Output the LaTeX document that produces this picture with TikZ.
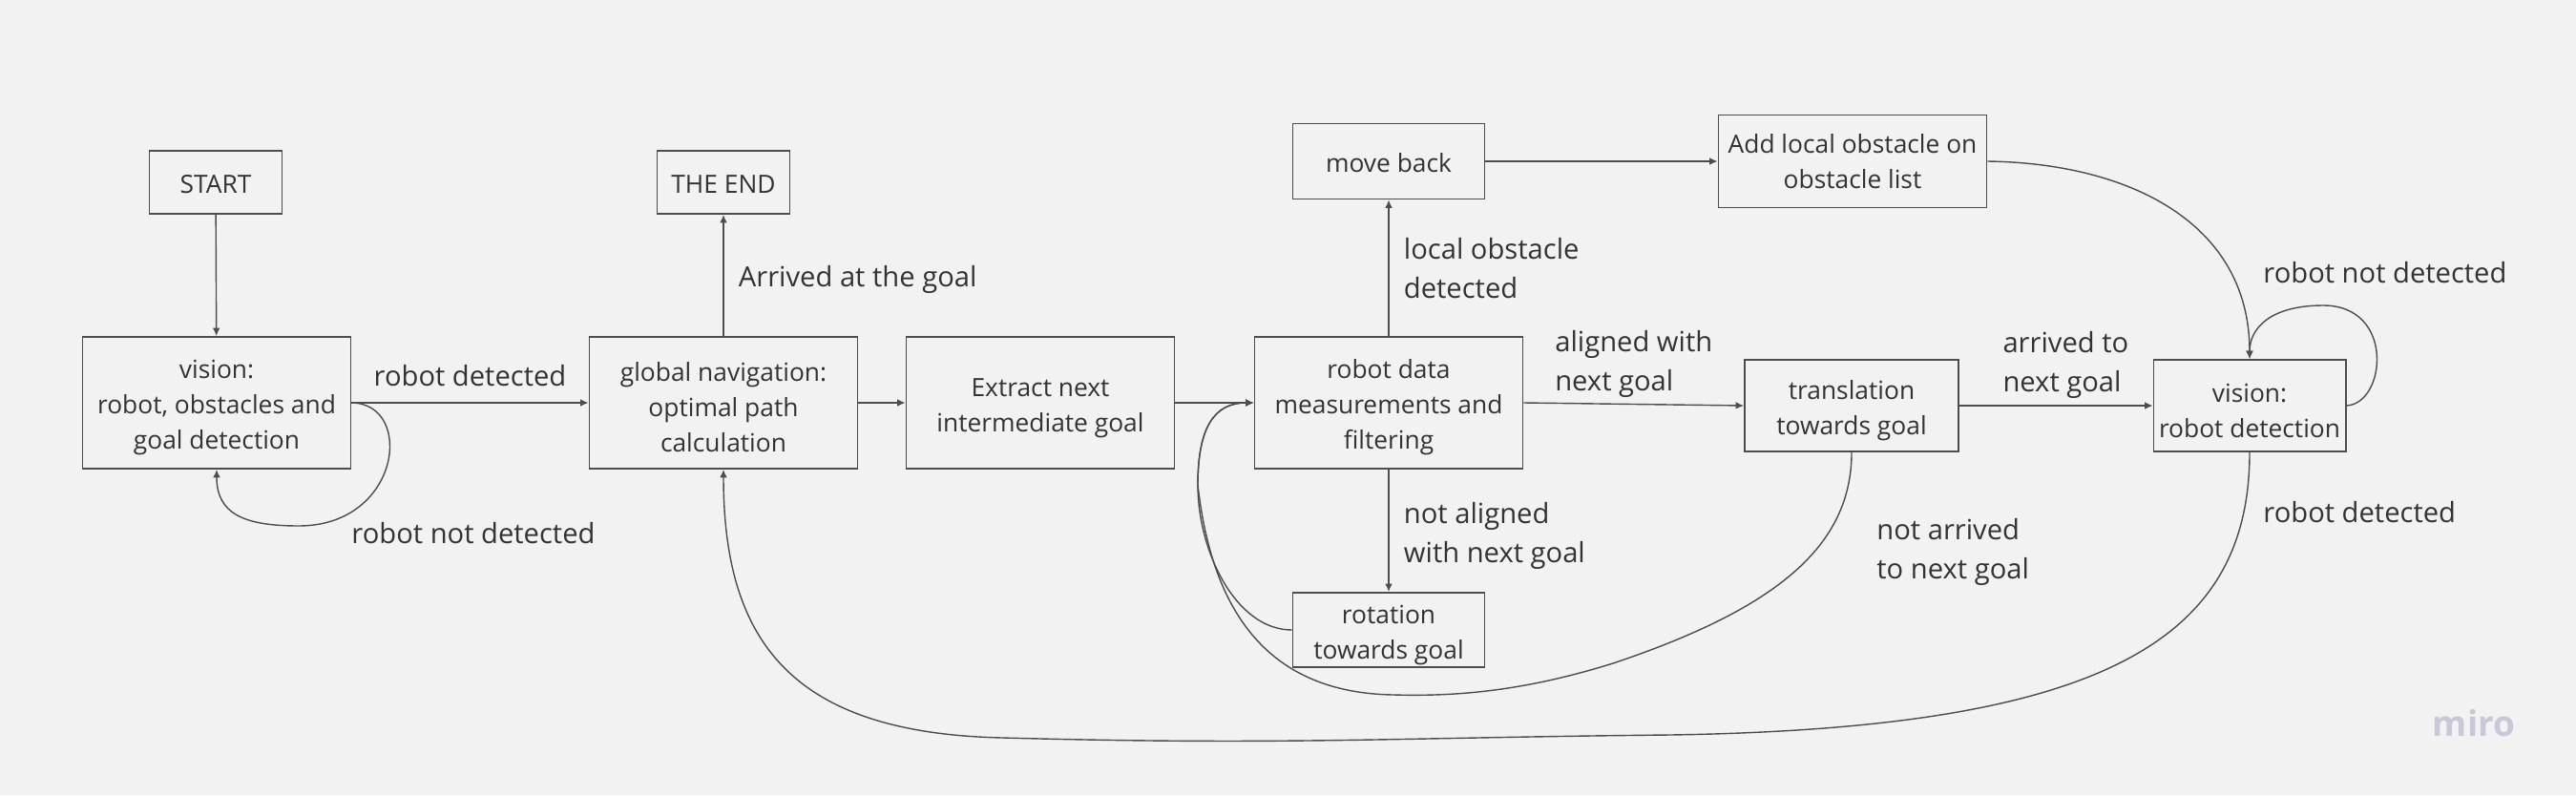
\documentclass[tikz,border=0pt]{standalone}
\usepackage{fontspec}
\setmainfont{Open Sans}
\usetikzlibrary{arrows.meta}
\definecolor{bgGray}{RGB}{242,242,242}
\definecolor{lineGray}{RGB}{77,77,77}
\definecolor{textDark}{RGB}{51,51,51}
\definecolor{miroGray}{RGB}{200,200,214}
\newcommand{\boxstrut}{\rule{0pt}{8.4pt}}

\begin{document}
\begin{tikzpicture}[
  font=\fontsize{8.3}{11.7}\selectfont,
  box/.style={draw=lineGray, line width=0.55pt, align=center, text=textDark,
    inner xsep=1pt, inner ysep=0pt, font=\fontsize{7.5}{10.5}\selectfont,
    execute at begin node={\rule{0pt}{6.6pt}}},
  bigbox/.style={box, minimum width=2.81cm, minimum height=1.38cm},
  midbox/.style={box, minimum width=2.01cm, minimum height=0.79cm},
  smallbox/.style={box, minimum width=1.39cm, minimum height=0.66cm},
  lbl/.style={text=textDark, align=left},
  arrow/.style={draw=lineGray, line width=0.4pt, -{Latex[length=2.4pt,width=2.2pt]}}
]

% Canvas.
\useasboundingbox[fill=bgGray] (0,0) rectangle (26.99,8.33);

% States.
\node[smallbox] (start) at (2.26,6.42) {START};
\node[smallbox] (theend) at (7.58,6.42) {THE END};
\node[bigbox] (vis1) at (2.27,4.11) {\boxstrut vision:\\robot, obstacles and\\goal detection};
\node[bigbox] (glob) at (7.58,4.11) {\boxstrut global navigation:\\optimal path\\calculation};
\node[bigbox] (extract) at (10.90,4.11) {\boxstrut Extract next\\intermediate goal};
\node[bigbox] (meas) at (14.55,4.11) {\boxstrut robot data\\measurements and\\filtering};
\node[midbox] (moveback) at (14.55,6.64) {move back};
\node[bigbox, minimum height=0.97cm] (addobs) at (19.41,6.64) {Add local obstacle on\\obstacle list};
\node[box, minimum width=2.24cm, minimum height=0.96cm] (transl) at (19.40,4.08) {\boxstrut translation\\towards goal};
\node[box, minimum width=2.01cm, minimum height=0.96cm] (vis2) at (23.57,4.08) {\boxstrut vision:\\robot detection};
\node[midbox, minimum height=0.78cm] (rot) at (14.55,1.73) {\boxstrut rotation\\towards goal};

% Straight transitions.
\draw[arrow] (start) -- (vis1);
\draw[arrow] (vis1.east) -- (glob.west)
  node[lbl, midway, above=1.5pt] {robot detected};
\draw[arrow] (glob) -- (theend)
  node[lbl, midway, right=1pt, yshift=-1.2pt] {Arrived at the goal};
\draw[arrow] (glob) -- (extract);
\draw[arrow] (extract) -- (meas);
\draw[arrow] (meas) -- (moveback)
  node[lbl, midway, right=1pt] {local obstacle\\detected};
\draw[arrow] (moveback) -- (addobs);
\draw[arrow] (meas.east) -- (transl.west)
  node[lbl, midway, above=-1.5pt] {aligned with\\next goal};
\draw[arrow] (transl) -- (vis2)
  node[lbl, pos=0.55, above=-1.5pt] {arrived to\\next goal};
\draw[arrow] (meas) -- (rot)
  node[lbl, midway, right=1pt, yshift=-1.5pt] {not aligned\\with next goal};

% Self loops on the vision states.
\draw[arrow] (vis1.east)
  .. controls (4.35,4.10) and (4.20,2.82) .. (3.13,2.82)
  .. controls (2.55,2.82) and (2.27,2.95) .. (vis1.south);
\node[lbl] (notdet1) at (4.96,2.74) {robot not detected};

\draw[arrow] (vis2.east)
  .. controls (25.00,4.10) and (25.10,5.13) .. (24.34,5.13)
  .. controls (23.80,5.13) and (23.57,4.90) .. (vis2.north);
\node[lbl, anchor=west] (notdet2) at (23.59,5.47) {robot not detected};

% Curved transitions.
\draw[arrow] (addobs.east)
  .. controls (22.30,6.62) and (23.57,6.00) .. (vis2.north);

\draw[arrow] (rot.west)
  .. controls (12.95,1.73) and (12.55,2.55) .. (12.55,3.25)
  .. controls (12.55,3.85) and (12.72,4.11) .. (meas.west);

\draw[arrow] (transl.south)
  .. controls (19.40,2.60) and (18.60,1.95) .. (16.90,1.38)
  .. controls (16.00,1.10) and (15.30,1.03) .. (14.60,1.05)
  .. controls (13.30,1.07) and (12.70,1.90) .. (12.55,3.25)
  .. controls (12.55,3.85) and (12.72,4.11) .. (meas.west);
\node[lbl, anchor=west] (notarr) at (19.54,2.55) {not arrived\\to next goal};

\draw[arrow] (vis2.south)
  .. controls (23.57,1.60) and (22.00,0.70) .. (17.50,0.63)
  .. controls (14.50,0.60) and (13.50,0.52) .. (10.50,0.60)
  .. controls (8.30,0.65) and (7.58,1.60) .. (glob.south);
\node[lbl, anchor=west] (det2) at (23.59,2.96) {robot detected};

% Watermark.
\node[text=miroGray, font=\fontsize{10.5}{12}\selectfont\bfseries] (miro) at (25.92,0.75) {miro};

\end{tikzpicture}
\end{document}
